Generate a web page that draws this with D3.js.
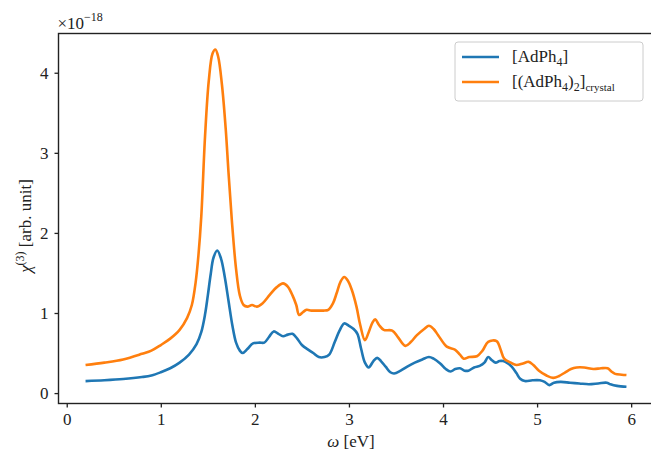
<!DOCTYPE html>
<html>
<head>
<meta charset="utf-8">
<script src="https://cdn.jsdelivr.net/npm/d3@7"></script>
<style>
    body { margin: 0; background: #fff; }
    svg text { font-family: "Liberation Serif", "DejaVu Serif", serif; fill: #222; }
    .axis path, .axis line { stroke: #222; }
</style>
</head>
<body>
<div id="chart"></div>
<script>

// ---- data ----
// omega in eV, chi in units of 1e-18
let omegaMol = [0.2, 0.4, 0.6, 0.8, 0.9, 1.0, 1.1, 1.2, 1.3, 1.38, 1.43, 1.47, 1.5, 1.53, 1.56, 1.6, 1.64, 1.68, 1.72, 1.76, 1.8,
    1.84, 1.87, 1.92, 1.98, 2.05, 2.1, 2.15, 2.2, 2.25, 2.3, 2.35, 2.4, 2.45, 2.5, 2.57, 2.62, 2.68, 2.74, 2.79, 2.85,
    2.9, 2.95, 3.0, 3.05, 3.09, 3.13, 3.17, 3.21, 3.26, 3.3, 3.34, 3.39, 3.44, 3.48, 3.55, 3.62, 3.7, 3.78, 3.85, 3.9,
    3.97, 4.03, 4.08, 4.13, 4.18, 4.23, 4.27, 4.33, 4.39, 4.44, 4.48, 4.52, 4.56, 4.6, 4.64, 4.69, 4.73, 4.78, 4.82, 4.87,
    4.95, 5.03, 5.08, 5.13, 5.18, 5.25, 5.35, 5.45, 5.55, 5.65, 5.74, 5.78, 5.85, 5.95];
let chiMol = [0.15, 0.16, 0.175, 0.2, 0.22, 0.26, 0.31, 0.38, 0.48, 0.61, 0.76, 0.98, 1.22, 1.48, 1.69, 1.78, 1.68, 1.45, 1.15, 0.85, 0.63,
    0.53, 0.50, 0.55, 0.62, 0.63, 0.63, 0.70, 0.77, 0.74, 0.71, 0.73, 0.74, 0.68, 0.60, 0.54, 0.50, 0.45, 0.45, 0.48, 0.64,
    0.78, 0.87, 0.84, 0.80, 0.74, 0.55, 0.38, 0.32, 0.40, 0.44, 0.40, 0.33, 0.26, 0.245, 0.28, 0.33, 0.38, 0.42, 0.45, 0.43,
    0.37, 0.30, 0.27, 0.30, 0.31, 0.28, 0.28, 0.32, 0.34, 0.38, 0.45, 0.41, 0.38, 0.40, 0.40, 0.37, 0.33, 0.25, 0.18, 0.15,
    0.16, 0.16, 0.14, 0.10, 0.13, 0.14, 0.13, 0.12, 0.11, 0.12, 0.13, 0.11, 0.09, 0.08];

let omegaCrys = [0.2, 0.4, 0.6, 0.8, 0.9, 1.0, 1.1, 1.2, 1.28, 1.33, 1.37, 1.4, 1.43, 1.47, 1.51, 1.55, 1.58, 1.61, 1.65, 1.69, 1.72,
    1.755, 1.8, 1.84, 1.88, 1.92, 1.97, 2.02, 2.08, 2.16, 2.23, 2.3, 2.35, 2.4, 2.44, 2.47, 2.51, 2.55, 2.6, 2.66, 2.73,
    2.78, 2.83, 2.87, 2.91, 2.95, 2.99, 3.03, 3.08, 3.12, 3.17, 3.21, 3.25, 3.28, 3.32, 3.37, 3.46, 3.52, 3.6, 3.66, 3.72,
    3.8, 3.85, 3.9, 3.95, 4.04, 4.13, 4.18, 4.22, 4.28, 4.36, 4.42, 4.48, 4.57, 4.61, 4.65, 4.72, 4.78, 4.85, 4.91, 4.96,
    5.02, 5.1, 5.17, 5.23, 5.3, 5.36, 5.42, 5.5, 5.6, 5.68, 5.75, 5.79, 5.83, 5.9, 5.95];
let chiCrys = [0.35, 0.38, 0.42, 0.49, 0.53, 0.60, 0.68, 0.79, 0.94, 1.1, 1.38, 1.72, 2.2, 3.2, 3.9, 4.24, 4.29, 4.20, 3.85, 3.30, 2.75,
    2.16, 1.55, 1.22, 1.10, 1.08, 1.10, 1.08, 1.12, 1.23, 1.32, 1.37, 1.33, 1.22, 1.10, 0.975, 1.01, 1.04, 1.03, 1.03, 1.03,
    1.04, 1.12, 1.25, 1.39, 1.45, 1.40, 1.29, 1.08, 0.85, 0.66, 0.76, 0.88, 0.92, 0.85, 0.79, 0.78, 0.70, 0.59, 0.64, 0.72,
    0.80, 0.84, 0.80, 0.72, 0.58, 0.54, 0.48, 0.43, 0.45, 0.46, 0.53, 0.64, 0.65, 0.55, 0.43, 0.38, 0.35, 0.37, 0.39, 0.35,
    0.28, 0.22, 0.19, 0.21, 0.26, 0.30, 0.32, 0.32, 0.30, 0.31, 0.31, 0.27, 0.24, 0.23, 0.225];

let xTicks = [0, 1, 2, 3, 4, 5, 6];
let yTicks = [0, 1, 2, 3, 4];

let seriesColors = ["#1f77b4", "#ff7f0e"];
let fontStack = "'Liberation Serif', 'DejaVu Serif', serif";

// ---- layout ----
let width = 651, height = 453;
let margin = {top: 33.5, right: -2.5, bottom: 49.5, left: 58.5};
let plotW = width - margin.left - margin.right;
let plotH = height - margin.top - margin.bottom;

let svg = d3.select("#chart").append("svg")
    .attr("width", width)
    .attr("height", height);

let g = svg.append("g")
    .attr("transform", "translate(" + margin.left + "," + margin.top + ")");

// scales (matplotlib-like 5% padding)
let x = d3.scaleLinear().domain([-0.0875, 6.2375]).range([0, plotW]);
let y = d3.scaleLinear().domain([-0.13, 4.49]).range([plotH, 0]);

// axes
let xAxis = g.append("g")
    .attr("class", "axis")
    .attr("transform", "translate(0," + plotH + ")")
    .call(d3.axisBottom(x).tickValues(xTicks).tickSize(4).tickPadding(5).tickFormat(d3.format("d")));

let yAxis = g.append("g")
    .attr("class", "axis")
    .call(d3.axisLeft(y).tickValues(yTicks).tickSize(4).tickPadding(6).tickFormat(d3.format("d")));

[xAxis, yAxis].forEach(a => {
    a.attr("font-family", fontStack).attr("font-size", 17);
    a.select(".domain").remove();
    a.selectAll("line").attr("stroke-width", 1.3);
    a.selectAll("text").attr("fill", "#222");
});

// frame
g.append("rect")
    .attr("x", 0).attr("y", 0)
    .attr("width", plotW).attr("height", plotH)
    .attr("fill", "none")
    .attr("stroke", "#222")
    .attr("stroke-width", 1.4);

// lines
let line = d3.line()
    .curve(d3.curveCatmullRom.alpha(0.5))
    .x(d => x(d[0]))
    .y(d => y(d[1]));

let molData = d3.zip(omegaMol, chiMol);
let crysData = d3.zip(omegaCrys, chiCrys);

[molData, crysData].forEach((data, i) => {
    g.append("path")
        .datum(data)
        .attr("d", line)
        .attr("fill", "none")
        .attr("stroke", seriesColors[i])
        .attr("stroke-width", 2.6)
        .attr("stroke-linejoin", "round");
});

// exponent label
let expo = svg.append("text")
    .attr("x", margin.left - 1)
    .attr("y", 29)
    .style("font-size", "17px");
expo.append("tspan").text("×10");
expo.append("tspan").attr("dy", -8).style("font-size", "12px").text("−18");

// x label
let xl = svg.append("text")
    .attr("x", 351)
    .attr("y", 447)
    .attr("text-anchor", "middle")
    .style("font-size", "17px");
xl.append("tspan").style("font-style", "italic").text("ω");
xl.append("tspan").text(" [eV]");

// y label
let yl = svg.append("text")
    .attr("transform", "translate(31,226) rotate(-90)")
    .attr("text-anchor", "middle")
    .style("font-size", "17px");
yl.append("tspan").style("font-style", "italic").text("χ");
yl.append("tspan").attr("dy", -7).style("font-size", "12px").text("(3)");
yl.append("tspan").attr("dy", 7).text(" [arb. unit]");

// legend
let legend = svg.append("g").attr("transform", "translate(455,42)");
legend.append("rect")
    .attr("width", 188).attr("height", 59)
    .attr("rx", 3)
    .attr("fill", "#fff")
    .attr("fill-opacity", 0.8)
    .attr("stroke", "#ccc")
    .attr("stroke-width", 1);

let legendRows = [15, 40];
legendRows.forEach((ry, i) => {
    legend.append("line")
        .attr("x1", 7).attr("x2", 44)
        .attr("y1", ry).attr("y2", ry)
        .attr("stroke", seriesColors[i])
        .attr("stroke-width", 2.6);
});

let t1 = legend.append("text").attr("x", 57).attr("y", legendRows[0] + 5).style("font-size", "17px");
t1.append("tspan").text("[AdPh");
t1.append("tspan").attr("dy", 4).style("font-size", "12px").text("4");
t1.append("tspan").attr("dy", -4).text("]");

let t2 = legend.append("text").attr("x", 57).attr("y", legendRows[1] + 5).style("font-size", "17px");
t2.append("tspan").text("[(AdPh");
t2.append("tspan").attr("dy", 4).style("font-size", "12px").text("4");
t2.append("tspan").attr("dy", -4).text(")");
t2.append("tspan").attr("dy", 4).style("font-size", "12px").text("2");
t2.append("tspan").attr("dy", -4).text("]");
t2.append("tspan").attr("dy", 4).style("font-size", "11px").text("crystal");

</script>
</body>
</html>
